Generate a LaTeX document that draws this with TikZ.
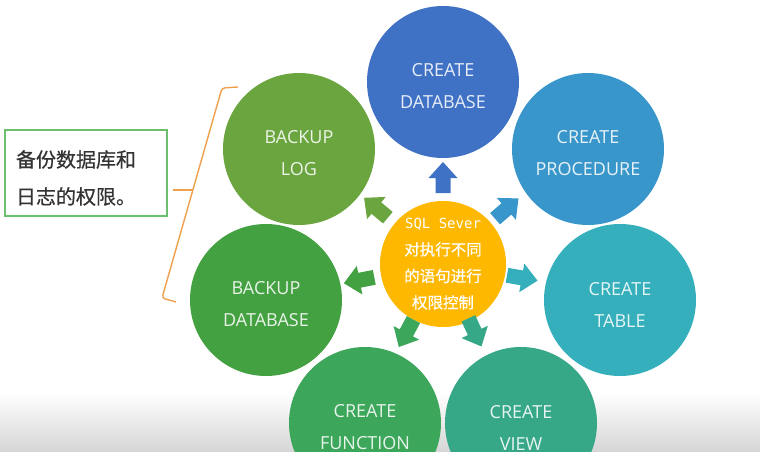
\documentclass[tikz,border=0pt]{standalone}
\usepackage{fontspec}
\newfontfamily\latinf{Open Sans}
\newfontfamily\cjkf{Noto Sans CJK SC}[FakeBold=0.6]
\newfontfamily\monof{DejaVu Sans Mono}
\usetikzlibrary{calc}
\definecolor{cDB}{HTML}{3F71C5}
\definecolor{cPROC}{HTML}{3996CA}
\definecolor{cTAB}{HTML}{35AFBB}
\definecolor{cVIEW}{HTML}{37A887}
\definecolor{cFUNC}{HTML}{3CA65A}
\definecolor{cBDB}{HTML}{44A142}
\definecolor{cLOG}{HTML}{6AA53F}
\definecolor{cCenter}{HTML}{FFB800}
\definecolor{cBracket}{HTML}{EFA04A}
\definecolor{cBox}{HTML}{6CBF6C}
\definecolor{cNote}{HTML}{333333}
\begin{document}
\begin{tikzpicture}[x=1pt,y=1pt,
  bubble/.style={circle, minimum size=152pt, inner sep=0pt, draw=none},
  bubtext/.style={inner sep=0pt, text=white, text opacity=0.88, align=center,
    font=\latinf\fontsize{18}{32}\selectfont},
  hub/.style={circle, minimum size=126pt, inner sep=0pt, draw=none, fill=cCenter,
    text=white, align=center, font=\cjkf\fontsize{15.5}{26.5}\selectfont},
  notebox/.style={rectangle, draw=cBox, line width=1.6pt, minimum width=162pt,
    minimum height=86pt, inner sep=0pt},
  notetext/.style={text width=140pt, align=left, inner sep=0pt,
    text=cNote, font=\cjkf\fontsize{20}{37}\selectfont},
  bracketline/.style={draw=cBracket, line width=1.4pt, rounded corners=3pt},
]
\useasboundingbox (0,0) rectangle (760,451);
\clip (0,0) rectangle (760,451);
\fill[white] (0,0) rectangle (760,451);
\shade[top color=white, bottom color=black!16] (0,0) rectangle (760,58);

% centre
\coordinate (C) at (443,187);

% outer bubbles (pixel y converted: y = 451 - py)
\node[bubble, fill=cDB]   (db)   at (443,369) {};
\node[bubble, fill=cPROC] (proc) at (588,302) {};
\node[bubble, fill=cTAB]  (tab)  at (620,151) {};
\node[bubble, fill=cVIEW] (view) at (521,28)  {};
\node[bubble, fill=cFUNC] (func) at (365,28)  {};
\node[bubble, fill=cBDB]  (bdb)  at (266,151) {};
\node[bubble, fill=cLOG]  (log)  at (299,302) {};
\node[bubtext] (dbt)   at ([yshift=-4.5pt]db.center)   {CREATE\\DATABASE};
\node[bubtext] (proct) at ([yshift=-4.5pt]proc.center) {CREATE\\PROCEDURE};
\node[bubtext] (tabt)  at ([yshift=-4.5pt]tab.center)  {CREATE\\TABLE};
\node[bubtext] (viewt) at ([yshift=-4.5pt]view.center) {CREATE\\VIEW};
\node[bubtext] (funct) at ([yshift=-4.5pt]func.center) {CREATE\\FUNCTION};
\node[bubtext] (bdbt)  at ([yshift=-4.5pt]bdb.center)  {BACKUP\\DATABASE};
\node[bubtext] (logt)  at ([yshift=-4.5pt]log.center)  {BACKUP\\LOG};

% hub
\node[hub] (hub) at (C) {{\monof\fontsize{14}{26.5}\selectfont SQL Sever}\\对执行不同\\的语句进行\\权限控制};

% block arrows
\foreach \ang/\tip/\col in {90/102/cDB, 41/100/cPROC, -10/96/cTAB, -65/91/cVIEW,
                            -118/94/cFUNC, -169/101/cBDB, 140/103/cLOG}{
  \begin{scope}[shift={(C)}, rotate=\ang]
    \pgfmathsetmacro{\rb}{\tip-31}
    \pgfmathsetmacro{\rh}{\tip-16}
    \fill[\col] (\rb,-7.5) -- (\rh,-7.5) -- (\rh,-14.5) -- (\tip,0)
      -- (\rh,14.5) -- (\rh,7.5) -- (\rb,7.5) -- cycle;
  \end{scope}
}

% note box
\node[notebox] (note) at (86,278) {};
\node[notetext] (notet) at ([yshift=-5pt]note.center) {备份数据库和\\日志的权限。};

% bracket
\draw[bracketline] (238,364) -- (222,363) -- (162,153) -- (176,149);
\coordinate (tick) at (193,261);
\draw[draw=cBracket, line width=1.4pt] (tick) -- ([xshift=5pt]note.east |- tick);
\end{tikzpicture}
\end{document}
